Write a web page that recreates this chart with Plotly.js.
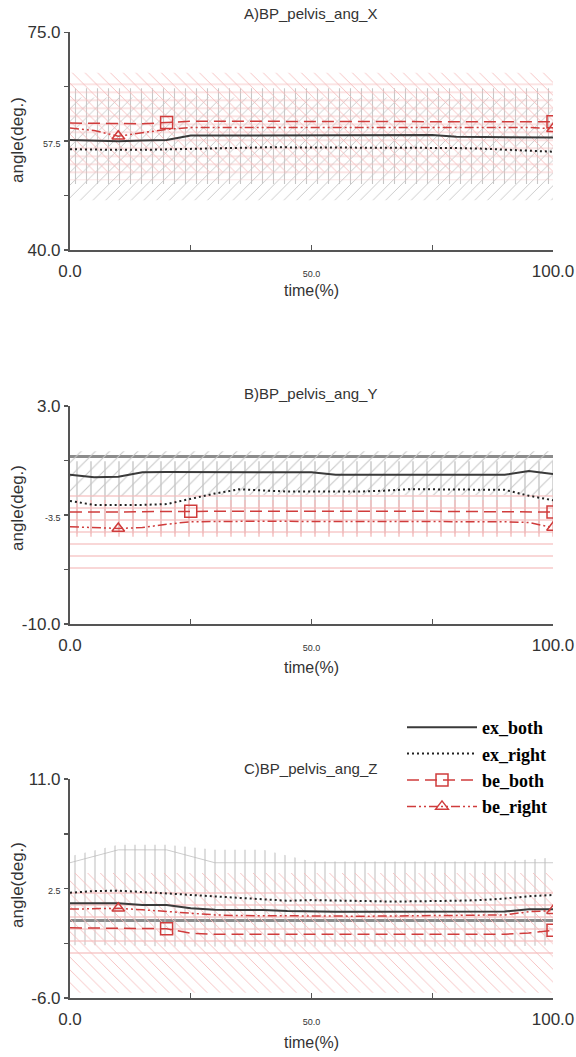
<!DOCTYPE html>
<html><head><meta charset="utf-8">
<script src="https://cdn.plot.ly/plotly-3.0.1.min.js"></script>
<style>html,body{margin:0;padding:0;background:#fff}#chart{width:576px;height:1057px}</style>
</head><body><div id="chart"></div>
<script>
// ---------- data ----------
var t = [0,5,10,15,20,25,30,35,40,45,50,55,60,65,70,75,80,85,90,95,100];
var bandT = [0,10,20,30,40,50,60,70,80,90,100];

var seriesNames = ['ex_both','ex_right','be_both','be_right'];
var panelTitles = ['A)BP_pelvis_ang_X','B)BP_pelvis_ang_Y','C)BP_pelvis_ang_Z'];

// Panel A
var A_exBoth  = [57.7,57.6,57.5,57.6,57.7,58.4,58.4,58.5,58.5,58.5,58.5,58.5,58.5,58.5,58.5,58.5,58.2,58.2,58.2,58.2,58.1];
var A_exRight = [56.2,56.1,56.1,56.1,56.2,56.3,56.4,56.4,56.5,56.5,56.5,56.5,56.5,56.5,56.5,56.4,56.4,56.3,56.1,56.0,55.8];
var A_beBoth  = [60.4,60.4,60.3,60.3,60.5,60.7,60.7,60.7,60.7,60.7,60.7,60.7,60.7,60.7,60.7,60.7,60.7,60.7,60.7,60.6,60.6];
var A_beRight = [59.6,59.2,58.3,58.9,59.4,59.7,59.7,59.7,59.8,59.8,59.8,59.8,59.8,59.8,59.8,59.8,59.8,59.8,59.8,59.7,59.5];
var A_exBothUp  = [66.0,66.0,66.1,66.1,66.1,66.1,66.1,66.1,66.0,66.0,66.0];
var A_exBothLo  = [50.6,50.6,50.7,50.7,50.7,50.7,50.7,50.7,50.6,50.6,50.6];
var A_exRightUp = [64.5,64.5,64.5,64.6,64.6,64.6,64.6,64.6,64.5,64.5,64.4];
var A_exRightLo = [48.0,48.0,48.0,48.0,48.0,48.0,48.0,48.0,48.0,48.0,48.0];
var A_beBothUp  = [68.5,68.5,68.5,68.5,68.5,68.5,68.5,68.5,68.5,68.5,68.5];
var A_beBothLo  = [52.6,52.6,52.7,52.7,52.7,52.7,52.7,52.7,52.7,52.7,52.6];
var A_beRightUp = [67.4,67.3,67.4,67.4,67.4,67.4,67.4,67.4,67.4,67.4,67.3];
var A_beRightLo = [51.2,51.2,51.3,51.3,51.3,51.3,51.3,51.3,51.3,51.3,51.2];

// Panel B
var B_exBoth  = [-1.10,-1.25,-1.22,-0.95,-0.94,-0.94,-0.94,-0.94,-0.94,-0.94,-0.95,-1.10,-1.10,-1.10,-1.10,-1.10,-1.10,-1.10,-1.10,-0.88,-1.05];
var B_exRight = [-2.66,-2.90,-2.90,-2.90,-2.85,-2.55,-2.22,-1.97,-2.05,-2.10,-2.10,-2.10,-2.10,-2.05,-1.97,-1.97,-1.97,-1.97,-2.00,-2.35,-2.62];
var B_beBoth  = [-3.32,-3.33,-3.32,-3.30,-3.28,-3.28,-3.28,-3.27,-3.28,-3.28,-3.28,-3.28,-3.28,-3.27,-3.28,-3.28,-3.28,-3.28,-3.28,-3.30,-3.32];
var B_beRight = [-4.20,-4.27,-4.30,-4.25,-4.05,-3.90,-3.88,-3.88,-3.87,-3.88,-3.88,-3.88,-3.88,-3.88,-3.87,-3.88,-3.88,-3.88,-3.90,-3.95,-4.25];
var B_exBothUp  = [0.3,0.3,0.3,0.3,0.3,0.3,0.3,0.3,0.3,0.3,0.3];
var B_exBothLo  = [-2.4,-2.4,-2.3,-2.3,-2.3,-2.3,-2.3,-2.3,-2.3,-2.3,-2.4];
var B_exRightUp = [-0.3,-0.3,-0.3,-0.3,-0.3,-0.3,-0.3,-0.3,-0.3,-0.3,-0.3];
var B_exRightLo = [-4.6,-4.6,-4.6,-4.6,-4.6,-4.6,-4.6,-4.6,-4.6,-4.6,-4.6];
var B_beBothUp  = [-2.0,-2.0,-2.0,-2.0,-2.0,-2.0,-2.0,-2.0,-2.0,-2.0,-2.0];
var B_beBothLo  = [-7.0,-7.0,-7.0,-7.0,-7.0,-7.0,-7.0,-7.0,-7.0,-7.0,-7.0];
var B_beRightUp = [-2.6,-2.6,-2.6,-2.6,-2.6,-2.6,-2.6,-2.6,-2.6,-2.6,-2.6];
var B_beRightLo = [-4.8,-4.8,-4.8,-4.8,-4.8,-4.8,-4.8,-4.8,-4.8,-4.8,-4.8];

// Panel C
var C_exBoth  = [1.35,1.35,1.35,1.22,1.22,0.96,0.85,0.83,0.83,0.75,0.70,0.70,0.70,0.70,0.70,0.70,0.70,0.70,0.72,0.88,0.88];
var C_exRight = [2.17,2.30,2.33,2.25,2.12,2.00,1.90,1.80,1.65,1.55,1.60,1.55,1.50,1.50,1.50,1.50,1.55,1.60,1.72,1.90,2.00];
var C_beBoth  = [-0.55,-0.58,-0.60,-0.60,-0.62,-0.98,-1.05,-1.05,-1.05,-1.05,-1.05,-1.05,-1.05,-1.05,-1.05,-1.05,-1.05,-1.05,-1.05,-0.95,-0.75];
var C_beRight = [0.90,0.95,0.96,0.85,0.70,0.55,0.45,0.40,0.38,0.36,0.35,0.35,0.35,0.36,0.38,0.40,0.40,0.42,0.45,0.70,0.78];
var C_exBothUp  = [4.5,5.5,5.5,4.5,4.5,4.5,4.5,4.5,4.5,4.5,4.5];
var C_exBothLo  = [-2.6,-2.6,-2.6,-2.6,-2.6,-2.6,-2.6,-2.6,-2.6,-2.6,-2.6];
var C_exRightUp = [5.0,5.9,5.9,5.5,5.5,4.6,4.6,4.6,4.6,4.6,4.9];
var C_exRightLo = [-1.9,-1.9,-2.0,-2.0,-2.0,-2.0,-2.0,-2.0,-2.0,-2.0,-1.9];
var C_beBothUp  = [3.7,3.7,3.7,3.7,3.7,3.7,3.7,3.7,3.7,3.7,3.7];
var C_beBothLo  = [-5.6,-5.6,-5.6,-5.6,-5.6,-5.6,-5.6,-5.6,-5.6,-5.6,-5.6];
var C_beRightUp = [3.0,3.0,3.0,3.0,3.0,3.0,3.0,3.0,3.0,3.0,3.0];
var C_beRightLo = [-3.2,-3.2,-3.2,-3.2,-3.2,-3.2,-3.2,-3.2,-3.2,-3.2,-3.2];

// marker positions (indices into t)
var A_marks = {beBoth:[4,20], beRight:[2,20]};
var B_marks = {beBoth:[5,20], beRight:[2,20]};
var C_marks = {beBoth:[4,20], beRight:[2,20]};

// axis ticks
var xTickVals = [0,25,50,75,100];
var xTickText = ['0.0','','<span style="font-size:9px">50.0</span>','','100.0'];
var A_yRange = [40,75], A_yTickVals = [40,48.75,57.5,66.25,75];
var A_yTickText = ['40.0','','<span style="font-size:9px">57.5</span>','','75.0'];
var B_yRange = [-10,3], B_yTickVals = [-10,-6.75,-3.5,-0.25,3];
var B_yTickText = ['-10.0','','<span style="font-size:9px">-3.5</span>','','3.0'];
var C_yRange = [-6,11], C_yTickVals = [-6,-1.75,2.5,6.75,11];
var C_yTickText = ['-6.0','','<span style="font-size:9px">2.5</span>','','11.0'];

// ---------- styling ----------
var RED = '#d03c3c';
var GRAYP = '#c6c6c6';
var PINKP = '#f5bcbc';
var lineStyles = {
  ex_both:  {color:'#3a3a3a', width:2, dash:'solid'},
  ex_right: {color:'#222222', width:2, dash:'2px,3px'},
  be_both:  {color:RED, width:1.5, dash:'12px,6px'},
  be_right: {color:RED, width:1.5, dash:'9px,3px,2px,3px,2px,3px'}
};
var traces = [];

function band(xa, ya, lo, up, shape, color, size, edge){
  traces.push({x:bandT, y:lo, xaxis:xa, yaxis:ya, mode:'lines', line:{width:0}, showlegend:false, hoverinfo:'skip'});
  traces.push({x:bandT, y:up, xaxis:xa, yaxis:ya, mode:'lines',
    line: edge ? {width:1, color:edge} : {width:0},
    fill:'tonexty', fillcolor:'rgba(255,255,255,0)',
    fillpattern:{shape:shape, fgcolor:color, bgcolor:'rgba(255,255,255,0)', size:size, solidity:0.1},
    showlegend:false, hoverinfo:'skip'});
}

function series(xa, ya, data, marks, legend){
  var keys = ['ex_both','ex_right','be_both','be_right'];
  keys.forEach(function(k, i){
    var tr = {x:t, y:data[i], xaxis:xa, yaxis:ya, name:k, legendgroup:k, showlegend:legend,
      mode:'lines', line:lineStyles[k], hoverinfo:'skip'};
    if (k === 'be_both' || k === 'be_right'){
      tr.mode = 'lines+markers';
      tr.marker = {symbol: k==='be_both' ? 'square-open' : 'triangle-up-open', size: k==='be_both'?12:11,
        color:RED, line:{width:1.5, color:RED}};
      tr.selectedpoints = k==='be_both' ? marks.beBoth : marks.beRight;
      tr.selected = {marker:{opacity:1}};
      tr.unselected = {marker:{opacity:0}};
    }
    traces.push(tr);
  });
}

// Panel A
band('x','y', A_exRightLo, A_exRightUp, '/', GRAYP, 9);
band('x','y', A_exBothLo, A_exBothUp, '|', GRAYP, 11);
band('x','y', A_beRightLo, A_beRightUp, '-', PINKP, 8);
band('x','y', A_beBothLo, A_beBothUp, '\\', PINKP, 9);
series('x','y', [A_exBoth,A_exRight,A_beBoth,A_beRight], A_marks, false);
// Panel B
band('x2','y2', B_exBothLo, B_exBothUp, '/', GRAYP, 10);
band('x2','y2', B_exRightLo, B_exRightUp, '|', GRAYP, 14);
band('x2','y2', B_beBothLo, B_beBothUp, '-', PINKP, 12);
band('x2','y2', B_beRightLo, B_beRightUp, '|', PINKP, 14);
series('x2','y2', [B_exBoth,B_exRight,B_beBoth,B_beRight], B_marks, false);
// Panel C
band('x3','y3', C_exBothLo, C_exBothUp, '', GRAYP, 10, '#cccccc');
band('x3','y3', C_exRightLo, C_exRightUp, '|', '#bcbcbc', 10);
band('x3','y3', C_beRightLo, C_beRightUp, '-', PINKP, 12);
band('x3','y3', C_beBothLo, C_beBothUp, '\\', PINKP, 9);
series('x3','y3', [C_exBoth,C_exRight,C_beBoth,C_beRight], C_marks, true);

var FONT = 'Liberation Sans, Arial, sans-serif';
var XD = [0.1215, 0.9601];
function xax(anchor){
  return {domain:XD, range:[0,100], anchor:anchor, showgrid:false, zeroline:false,
    showline:true, linecolor:'#555', linewidth:2, mirror:false,
    ticks:'inside', ticklen:5, tickwidth:1.5, tickcolor:'#555',
    tickmode:'array', tickvals:xTickVals, ticktext:xTickText,
    tickfont:{family:FONT, size:17, color:'#333'}, ticklabelstandoff:5, fixedrange:true};
}
function yax(anchor, dom, rng, vals, txt, zl){
  return {domain:dom, range:rng, anchor:anchor, showgrid:false,
    zeroline:!!zl, zerolinecolor:'#8c8c8c', zerolinewidth:2.5,
    showline:true, linecolor:'#555', linewidth:2,
    ticks:'outside', ticklen:4, tickwidth:1.5, tickcolor:'#555',
    tickmode:'array', tickvals:vals, ticktext:txt,
    tickfont:{family:FONT, size:17, color:'#333'}, fixedrange:true};
}

var ann = [];
function txt(x, y, s, size, angle){
  ann.push({xref:'paper', yref:'paper', x:x, y:y, text:s, showarrow:false,
    xanchor:'center', yanchor:'middle', textangle:angle||0,
    font:{family:FONT, size:size, color:'#333'}});
}
var H = 1057, W = 576;
txt(310/W, 1-14/H, panelTitles[0], 15);
txt(310/W, 1-393/H, panelTitles[1], 15);
txt(310/W, 1-768/H, panelTitles[2], 15);
txt(17/W, 1-140/H, 'angle(deg.)', 17, -90);
txt(17/W, 1-508/H, 'angle(deg.)', 17, -90);
txt(17/W, 1-885/H, 'angle(deg.)', 17, -90);
txt(311/W, 1-291/H, 'time(%)', 16);
txt(311/W, 1-667/H, 'time(%)', 16);
txt(311/W, 1-1042/H, 'time(%)', 16);

var layout = {
  width:W, height:H, margin:{l:0,r:0,t:0,b:0},
  paper_bgcolor:'#fff', plot_bgcolor:'rgba(0,0,0,0)',
  xaxis: xax('y'), yaxis: yax('x', [1-250/H, 1-32.3/H], A_yRange, A_yTickVals, A_yTickText, false),
  xaxis2: xax('y2'), yaxis2: yax('x2', [1-624/H, 1-406/H], B_yRange, B_yTickVals, B_yTickText, true),
  xaxis3: xax('y3'), yaxis3: yax('x3', [1-998/H, 1-779/H], C_yRange, C_yTickVals, C_yTickText, true),
  showlegend:true,
  legend:{x:402/W, y:1-709/H, xanchor:'left', yanchor:'top', bgcolor:'rgba(255,255,255,0)',
    font:{family:'Liberation Serif, Times New Roman, serif', size:18, color:'#000', weight:'bold'},
    itemwidth:70, tracegroupgap:0, traceorder:'normal'},
  annotations:ann
};

Plotly.newPlot('chart', traces, layout, {staticPlot:true, displayModeBar:false});
</script>
</body></html>
